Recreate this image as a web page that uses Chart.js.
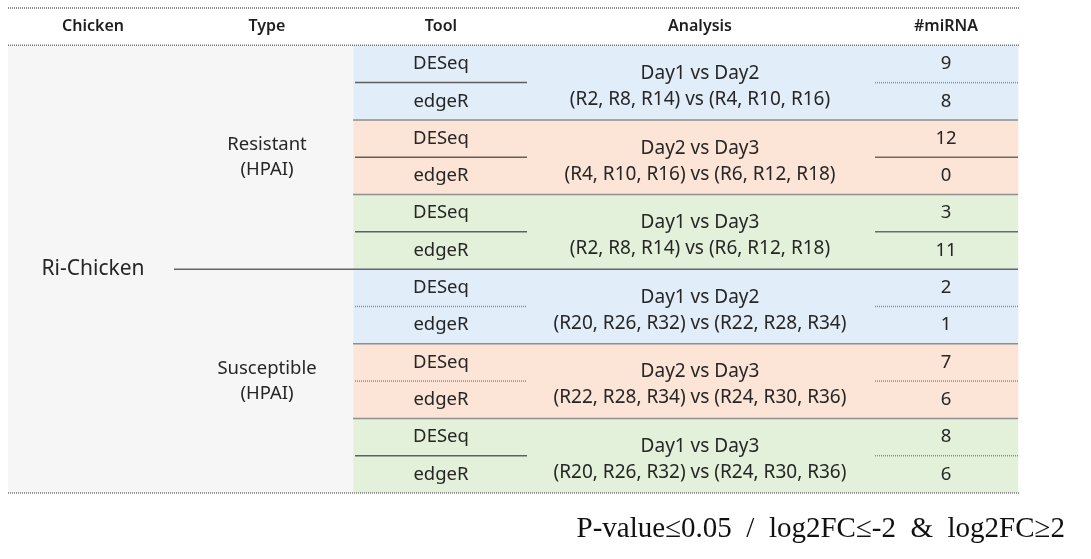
<!DOCTYPE html>
<html>
<head>
<meta charset="utf-8">
<script src="https://cdn.jsdelivr.net/npm/chart.js@4.4.0/dist/chart.umd.min.js"></script>
<style>
  html, body { margin: 0; padding: 0; background: #ffffff; }
  #wrap { width: 1091px; height: 559px; position: relative; }
</style>
</head>
<body>
<div id="wrap"><canvas id="tableChart"></canvas></div>
<script>
// Datos de la tabla
const columns = ['Chicken', 'Type', 'Tool', 'Analysis', '#miRNA'];
const chicken = 'Ri-Chicken';
const types = [['Resistant', '(HPAI)'], ['Susceptible', '(HPAI)']];
const tools = ['DESeq', 'edgeR', 'DESeq', 'edgeR', 'DESeq', 'edgeR',
               'DESeq', 'edgeR', 'DESeq', 'edgeR', 'DESeq', 'edgeR'];
const comparisons = ['Day1 vs Day2', 'Day2 vs Day3', 'Day1 vs Day3',
                     'Day1 vs Day2', 'Day2 vs Day3', 'Day1 vs Day3'];
const sampleSets = ['(R2, R8, R14) vs (R4, R10, R16)',
                    '(R4, R10, R16) vs (R6, R12, R18)',
                    '(R2, R8, R14) vs (R6, R12, R18)',
                    '(R20, R26, R32) vs (R22, R28, R34)',
                    '(R22, R28, R34) vs (R24, R30, R36)',
                    '(R20, R26, R32) vs (R24, R30, R36)'];
const miRNA = [9, 8, 12, 0, 3, 11, 2, 1, 7, 6, 8, 6];
const footnote = 'P-value\u22640.05  /  log2FC\u2264-2  &  log2FC\u22652';

// Columnas en unidades de la escala x (ancho de tabla)
const colEdges = [0, 345, 517, 867, 1010];
const colCenters = [85, 259, 433, 692, 938];
const groupColors = ['#e1edf9', '#fce4d6', '#e3f1db'];
const toolSep = ['solid', 'solid', 'solid', 'dotted', 'dotted', 'solid'];
const miSep = ['dotted', 'solid', 'solid', 'dotted', 'dotted', 'dotted'];

const labels = [''].concat(tools);
const grayData = [null].concat(tools.map(() => [colEdges[0], colEdges[1]]));
const colorData = [null].concat(tools.map(() => [colEdges[1], 1010]));
const rowColors = ['#ffffff'].concat(tools.map((t, i) => groupColors[Math.floor(i / 2) % 3]));

const FONT = '"Noto Sans", "Open Sans", sans-serif';

const tablePlugin = {
    id: 'tableText',
    afterDatasetsDraw(chart) {
        const { ctx, chartArea, scales } = chart;
        const xs = scales.x, ys = scales.y;
        const X = v => xs.getPixelForValue(v);
        const Y = i => ys.getPixelForValue(i);
        const B = i => (Y(i) + Y(i + 1)) / 2; // borde entre fila i e i+1
        const top = Y(0) - (Y(1) - Y(0)) / 2;
        const bottom = Y(12) + (Y(1) - Y(0)) / 2;

        ctx.save();
        function dotted(x1, x2, y, color) {
            ctx.beginPath();
            ctx.setLineDash([1, 1]);
            ctx.strokeStyle = color || '#8c8c8c';
            ctx.lineWidth = 1.5;
            ctx.moveTo(x1, y); ctx.lineTo(x2, y);
            ctx.stroke();
            ctx.setLineDash([]);
        }
        function solid(x1, x2, y, color, w) {
            ctx.beginPath();
            ctx.strokeStyle = color;
            ctx.lineWidth = w || 1.5;
            ctx.moveTo(x1, y); ctx.lineTo(x2, y);
            ctx.stroke();
        }
        // líneas punteadas del encabezado y del final
        dotted(X(0), X(1012), top, '#666');
        dotted(X(0), X(1012), B(0), '#777');
        dotted(X(0), X(1012), bottom, '#777');

        // separadores entre grupos
        for (let g = 1; g < 6; g++) {
            const y = B(g * 2);
            if (g === 3) solid(X(166), X(1010), y, '#666', 1.5);
            else solid(X(colEdges[1]), X(1010), y, '#8e8e8e', 1.5);
        }
        // separadores dentro del grupo (Tool y #miRNA)
        for (let g = 0; g < 6; g++) {
            const y = B(g * 2 + 1);
            if (toolSep[g] === 'solid') solid(X(347), X(519), y, '#5f5f5f', 1.5);
            else dotted(X(347), X(519), y, '#8c8c8c');
            if (miSep[g] === 'solid') solid(X(867), X(1010), y, '#6a6a6a', 1.5);
            else dotted(X(867), X(1010), y, '#8c8c8c');
        }

        ctx.textAlign = 'center';
        ctx.textBaseline = 'middle';
        // encabezado
        ctx.fillStyle = '#1e1e1e';
        ctx.font = '600 16px ' + FONT;
        columns.forEach((c, i) => ctx.fillText(c, X(colCenters[i]), Y(0)));

        ctx.fillStyle = '#262626';
        // Chicken
        ctx.font = '21px ' + FONT;
        ctx.fillText(chicken, X(colCenters[0]), B(6));
        ctx.font = '18.5px ' + FONT;
        // Type
        types.forEach((t, k) => {
            const yc = B(k * 6 + 3);
            ctx.fillText(t[0], X(colCenters[1]), yc - 12);
            ctx.fillText(t[1], X(colCenters[1]), yc + 13);
        });
        // Tool y #miRNA
        tools.forEach((t, i) => {
            ctx.fillText(t, X(colCenters[2]), Y(i + 1));
            ctx.fillText(String(miRNA[i]), X(colCenters[4]), Y(i + 1));
        });
        // Analysis
        ctx.font = '19px ' + FONT;
        comparisons.forEach((c, g) => {
            const yc = B(g * 2 + 1);
            ctx.fillText(c, X(colCenters[3]), yc - 9);
            ctx.fillText(sampleSets[g], X(colCenters[3]), yc + 17);
        });

        // nota al pie
        ctx.textAlign = 'right';
        ctx.fillStyle = '#111';
        ctx.font = '29px "Liberation Serif", "DejaVu Serif", serif';
        ctx.fillText(footnote, chartArea.right + 45, bottom + 36);
        ctx.restore();
    }
};

const ctx = document.getElementById('tableChart').getContext('2d');
const tableChart = new Chart(ctx, {
    type: 'bar',
    data: {
        labels: labels,
        datasets: [
            {
                label: 'Chicken / Type',
                data: grayData,
                backgroundColor: '#f6f6f6',
                grouped: false,
                barPercentage: 1,
                categoryPercentage: 1,
                borderWidth: 0
            },
            {
                label: 'Tool / Analysis / #miRNA',
                data: colorData,
                backgroundColor: rowColors,
                grouped: false,
                barPercentage: 1,
                categoryPercentage: 1,
                borderWidth: 0
            }
        ]
    },
    options: {
        indexAxis: 'y',
        responsive: true,
        maintainAspectRatio: false,
        animation: false,
        layout: { padding: { left: 8, top: 8, right: 71, bottom: 66 } },
        plugins: {
            legend: { display: false },
            tooltip: { enabled: false }
        },
        scales: {
            x: { type: 'linear', min: 0, max: 1012, display: false },
            y: { type: 'category', display: false, offset: true }
        }
    },
    plugins: [tablePlugin]
});
</script>
</body>
</html>
